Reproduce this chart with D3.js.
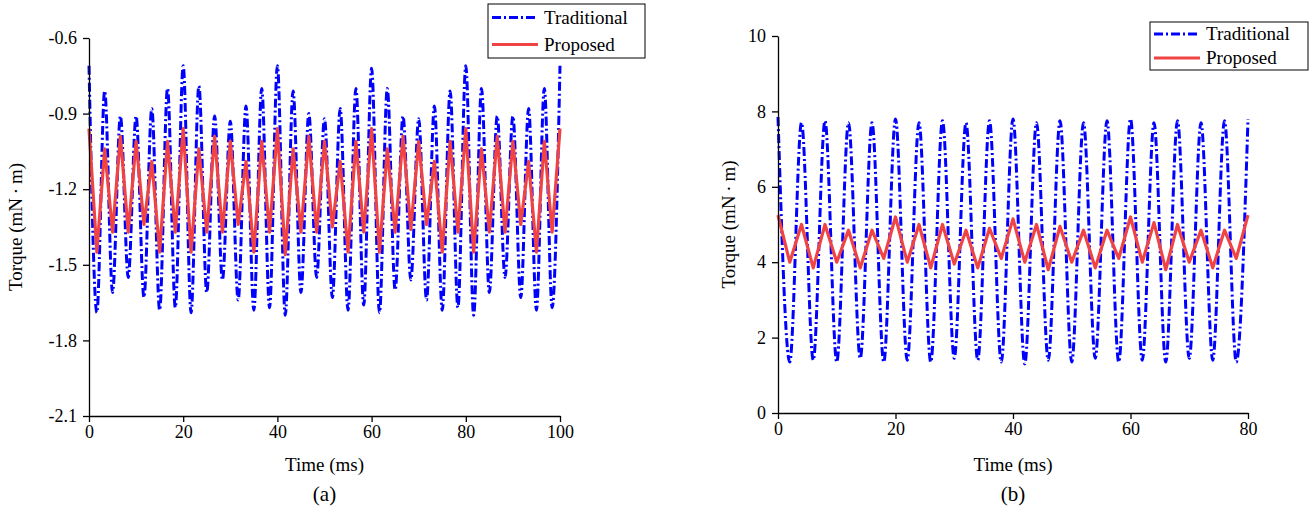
<!DOCTYPE html>
<html lang="en">
<head>
<meta charset="UTF-8">
<title>Torque comparison</title>
<style>
    body { margin: 0; background: #fff; }
    .axis text { font-family: "Liberation Serif", serif; font-size: 18px; fill: #000; }
    .axis path, .axis line { stroke: #000; stroke-width: 1.3; fill: none; }
    .lbl { font-family: "Liberation Serif", serif; font-size: 19px; fill: #000; }
</style>
<script src="https://cdn.jsdelivr.net/npm/d3@7"></script>
</head>
<body>
<svg id="chart" width="1312" height="516"></svg>
<script>
    // ---- panel (a): extremes every 1/6 of 10 ms, alternating peak / trough
    var timeA = [0,1.67,3.33,5,6.67,8.33,10,11.67,13.33,15,16.67,18.33,
        20,21.67,23.33,25,26.67,28.33,30,31.67,33.33,35,36.67,38.33,
        40,41.67,43.33,45,46.67,48.33,50,51.67,53.33,55,56.67,58.33,
        60,61.67,63.33,65,66.67,68.33,70,71.67,73.33,75,76.67,78.33,
        80,81.67,83.33,85,86.67,88.33,90,91.67,93.33,95,96.67,98.33,100];
    var tradA = [-0.71,-1.69,-0.81,-1.61,-0.91,-1.55,-0.91,-1.63,-0.88,-1.68,-0.80,-1.67,
        -0.71,-1.69,-0.79,-1.61,-0.91,-1.56,-0.93,-1.64,-0.87,-1.68,-0.80,-1.67,
        -0.71,-1.70,-0.81,-1.61,-0.90,-1.55,-0.92,-1.63,-0.88,-1.68,-0.80,-1.66,
        -0.72,-1.69,-0.80,-1.60,-0.91,-1.56,-0.92,-1.64,-0.87,-1.68,-0.81,-1.67,
        -0.71,-1.70,-0.80,-1.61,-0.91,-1.55,-0.91,-1.63,-0.88,-1.68,-0.80,-1.67,-0.71];
    var propA = [-0.96,-1.45,-1.04,-1.37,-0.99,-1.37,-1.01,-1.34,-1.09,-1.45,-1.01,-1.37,
        -0.96,-1.45,-1.04,-1.37,-0.99,-1.37,-1.01,-1.34,-1.09,-1.45,-1.01,-1.37,
        -0.96,-1.46,-1.04,-1.37,-0.99,-1.37,-1.01,-1.35,-1.09,-1.45,-1.01,-1.37,
        -0.96,-1.45,-1.04,-1.37,-0.99,-1.36,-1.01,-1.34,-1.09,-1.45,-1.01,-1.37,
        -0.96,-1.45,-1.04,-1.37,-0.99,-1.37,-1.01,-1.34,-1.09,-1.45,-1.01,-1.37,-0.96];
    var yTicksA = [-2.1,-1.8,-1.5,-1.2,-0.9,-0.6];
    var xTicksA = [0,20,40,60,80,100];

    // ---- panel (b): extremes every 2 ms
    var timeB = [0,2,4,6,8,10,12,14,16,18,20,22,24,26,28,30,32,34,36,38,40,
        42,44,46,48,50,52,54,56,58,60,62,64,66,68,70,72,74,76,78,80];
    var tradB = [7.85,1.35,7.7,1.4,7.75,1.35,7.7,1.45,7.7,1.35,7.8,1.4,7.7,1.35,7.75,1.45,7.7,1.4,7.75,1.35,7.8,
        1.3,7.7,1.4,7.75,1.35,7.7,1.45,7.75,1.35,7.8,1.4,7.7,1.35,7.75,1.45,7.7,1.4,7.75,1.35,7.8];
    var propB = [5.25,4.0,5.0,3.85,5.0,4.0,4.85,3.85,4.85,4.1,5.2,4.0,5.0,3.85,5.0,3.95,4.85,3.85,4.9,4.1,5.15,
        4.0,5.0,3.8,4.95,4.0,4.85,3.85,4.85,4.1,5.2,4.0,5.05,3.8,5.0,4.0,4.85,3.85,4.85,4.1,5.25];
    var yTicksB = [0,2,4,6,8,10];
    var xTicksB = [0,20,40,60,80];

    var svg = d3.select("#chart");
    var hyphen = d3.formatLocale({ decimal: ".", thousands: ",", grouping: [3], currency: ["", ""], minus: "-" });

    function panel(o) {
        var x = d3.scaleLinear().domain(o.xd).range([o.left, o.right]);
        var y = d3.scaleLinear().domain(o.yd).range([o.bottom, o.top]);
        var g = svg.append("g");

        var line = function (vals, curve) {
            return d3.line().curve(curve)
                .x(function (d, i) { return x(o.t[i]); })
                .y(function (d) { return y(d); })(vals);
        };
        g.append("path").attr("d", line(o.trad, d3.curveMonotoneX))
            .attr("fill", "none").attr("stroke", "#0000ff").attr("stroke-width", 3)
            .attr("stroke-dasharray", "9,3,2,3");
        g.append("path").attr("d", line(o.prop, d3.curveLinear))
            .attr("fill", "none").attr("stroke", "#f04444").attr("stroke-width", 3.2)
            .attr("stroke-linejoin", "round");

        g.append("g").attr("class", "axis").attr("transform", "translate(0," + o.bottom + ")")
            .call(d3.axisBottom(x).tickValues(o.xt).tickSize(6).tickPadding(3).tickSizeOuter(0));
        g.append("g").attr("class", "axis").attr("transform", "translate(" + o.left + ",0)")
            .call(d3.axisLeft(y).tickValues(o.yt).tickSize(6).tickPadding(6).tickSizeOuter(0)
                .tickFormat(o.fmt));

        var cx = (o.left + o.right) / 2;
        g.append("text").attr("class", "lbl").attr("x", cx).attr("y", 471)
            .attr("text-anchor", "middle").text("Time (ms)");
        g.append("text").attr("class", "lbl").attr("x", cx).attr("y", 501)
            .attr("text-anchor", "middle").style("font-size", "21px").text(o.tag);
        g.append("text").attr("class", "lbl")
            .attr("transform", "translate(" + o.ylx + "," + ((o.top + o.bottom) / 2) + ") rotate(-90)")
            .attr("text-anchor", "middle").text("Torque (mN\u2009\u00b7\u2009m)");

        // legend
        var lg = g.append("g").attr("transform", "translate(" + o.lg[0] + "," + o.lg[1] + ")");
        lg.append("rect").attr("width", o.lg[2]).attr("height", o.lg[3])
            .attr("fill", "#fff").attr("stroke", "#000").attr("stroke-width", 1);
        var rowH = o.lg[3] / 2;
        lg.append("line").attr("x1", 4).attr("x2", 50).attr("y1", rowH * 0.5).attr("y2", rowH * 0.5)
            .attr("stroke", "#0000ff").attr("stroke-width", 3).attr("stroke-dasharray", "9,3,2,3");
        lg.append("line").attr("x1", 4).attr("x2", 50).attr("y1", rowH * 1.5).attr("y2", rowH * 1.5)
            .attr("stroke", "#f04444").attr("stroke-width", 3.2);
        lg.append("text").attr("class", "lbl").attr("x", 56).attr("y", rowH * 0.5 + 6).text("Traditional");
        lg.append("text").attr("class", "lbl").attr("x", 56).attr("y", rowH * 1.5 + 6).text("Proposed");
    }

    panel({ left: 89, right: 560, top: 38, bottom: 416, xd: [0, 100], yd: [-2.1, -0.6],
        t: timeA, trad: tradA, prop: propA, xt: xTicksA, yt: yTicksA, fmt: hyphen.format(".1f"),
        tag: "(a)", ylx: 22, lg: [488, 4, 157, 54] });
    panel({ left: 778, right: 1248, top: 36, bottom: 413, xd: [0, 80], yd: [0, 10],
        t: timeB, trad: tradB, prop: propB, xt: xTicksB, yt: yTicksB, fmt: d3.format("d"),
        tag: "(b)", ylx: 735, lg: [1150, 22, 158, 48] });
</script>
</body>
</html>
